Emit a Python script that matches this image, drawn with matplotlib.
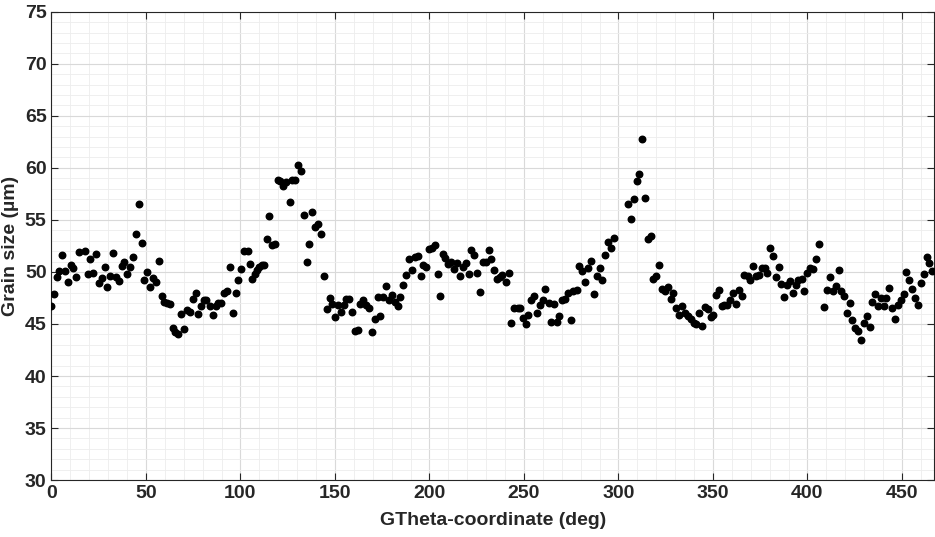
import matplotlib.pyplot as plt
from matplotlib.ticker import MultipleLocator

plt.rcParams['font.family'] = ['Liberation Sans', 'DejaVu Sans']
plt.rcParams['font.weight'] = 'bold'

# angle (deg) and grain size (um)
theta = [0, 1.3, 2.7, 3.9, 5.7, 7.1, 8.7, 10.1, 11.3, 13.2, 14.7, 17.6, 19.2, 20.6,
         22.1, 23.6, 25.4, 26.8, 28.2, 29.6, 31.2, 32.6, 34.2, 35.6, 37.2, 38.6, 40.2,
         41.8, 43.2, 44.8, 46.2, 47.8, 49.2, 50.8, 52.2, 53.8, 55.4, 56.8, 58.4, 59.8,
         61.2, 62.8, 64.2, 65.6, 67.2, 68.8, 70.4, 71.8,
         73.5, 74.9, 76.3, 77.7, 79.1, 80.5, 82.0, 83.7, 85.3, 86.9, 88.3, 89.9, 91.3,
         92.9, 94.3, 95.9, 97.5, 98.9, 100.5, 101.9, 103.8, 104.9, 106.3, 107.5, 108.8,
         110.0, 111.2, 112.5, 113.9, 115.3, 116.5, 118.1, 119.7, 121.1, 122.5, 123.9,
         126.0, 127.3, 129.0, 130.4, 132.0, 133.4, 135.0, 136.4, 138.0, 139.4, 141.0,
         142.6, 144.0,
         145.6, 147.2, 148.6, 150.2, 151.4, 153.0, 154.6, 156.0, 157.6, 159.0, 160.4,
         162.0, 163.4, 165.0, 166.6, 168.2, 169.6, 171.2, 172.6, 174.0, 175.6, 177.2,
         178.6, 180.2, 181.6, 183.2, 184.6, 186.2, 187.6, 189.2, 190.7, 192.3, 193.7,
         195.3, 196.6, 198.1, 199.7, 201.3, 202.9, 204.3, 205.7, 207.1, 208.5, 210.0,
         211.4, 213.0, 214.5, 216.3, 217.7, 219.1, 220.7, 222.1, 223.7, 225.3, 226.7,
         228.1, 229.7, 231.3, 232.7, 234.3, 235.7, 237.1, 238.5, 240.3, 241.9, 243.3,
         244.9, 246.6, 248.0, 249.4, 251.0, 252.4, 254.0, 255.4, 256.9, 258.3,
         260.0, 261.4, 263.0, 264.4, 266.0, 267.4, 268.8, 270.4, 271.8, 273.4, 275.0,
         276.2, 278.0, 279.2, 280.8, 282.4, 283.8, 285.4, 287.0, 288.4, 290.0, 291.4,
         293.0, 294.4, 296.0, 297.4, 305.0, 306.4, 308.0, 309.6, 311.0, 312.5, 314.0,
         315.4, 317.0, 318.5, 320.0, 321.5, 323.1, 324.7, 326.1, 327.7, 329.1, 330.5,
         332.3, 333.7, 335.3, 336.9, 338.3, 339.9, 341.3, 342.7, 344.3, 345.7, 347.3,
         348.9, 350.3, 351.7, 353.3, 354.7, 356.1, 357.7, 359.1, 360.7, 362.3, 363.7,
         365.3, 366.7, 368.3, 369.7, 371.3, 372.7, 374.3, 375.7, 377.3, 378.8, 380.2,
         381.8, 383.2, 384.8, 386.2, 387.8, 389.2, 390.8, 392.2, 393.8, 395.2,
         397.0, 398.2, 399.6, 401.2, 402.8, 404.4, 406.0, 408.8, 410.4, 411.9, 413.4,
         414.9, 416.5, 418.0, 419.4, 420.8, 422.4, 423.8, 425.2, 426.8, 428.2, 429.8,
         431.4, 432.9, 434.3, 435.9, 437.3, 438.9, 440.3, 441.7, 443.3, 444.9, 446.5,
         448.1, 449.5, 450.9, 452.3, 453.7, 455.5, 457.1, 458.5, 459.9, 461.5, 463.1,
         464.5, 466.1]
grain = [46.7, 47.85, 49.55, 50.1, 51.6, 50.1, 49.0, 50.7, 50.4, 49.55, 51.9, 52.05, 49.8, 51.25,
         49.9, 51.7, 48.9, 49.4, 50.5, 48.6, 49.6, 51.8, 49.55, 49.1, 50.6, 51.0, 49.8,
         50.5, 51.4, 53.6, 56.5, 52.8, 49.2, 50.0, 48.6, 49.4, 49.0, 51.1, 47.7, 47.1,
         47.0, 46.9, 44.6, 44.2, 44.0, 46.0, 44.5, 46.3,
         46.2, 47.4, 48.0, 45.96, 46.7, 47.3, 47.3, 46.7, 45.9, 46.7, 47.05, 47.0, 48.0,
         48.2, 50.5, 46.1, 47.95, 49.2, 50.3, 52.05, 52.0, 50.8, 49.3, 49.8, 50.2,
         50.5, 50.7, 50.7, 53.2, 55.4, 52.6, 52.7, 58.85, 58.7, 58.3, 58.6,
         56.7, 58.8, 58.85, 60.3, 59.75, 55.45, 51.0, 52.7, 55.8, 54.3, 54.6,
         53.6, 49.65,
         46.4, 47.5, 46.9, 45.7, 46.8, 46.2, 46.8, 47.4, 47.4, 46.2, 44.3,
         44.4, 46.95, 47.3, 46.8, 46.5, 44.2, 45.45, 47.6, 45.8, 47.6, 48.65,
         47.3, 47.8, 47.15, 46.7, 47.6, 48.7, 49.7, 51.25, 50.2, 51.4, 51.5,
         49.6, 50.7, 50.5, 52.2, 52.35, 52.6, 49.8, 47.7, 51.7, 51.35, 50.8,
         51.0, 50.3, 50.9, 49.6, 50.5, 50.9, 49.8, 52.1, 51.6, 49.9, 48.1,
         51.0, 51.0, 52.1, 51.2, 50.2, 49.3, 49.55, 49.7, 49.0, 49.9, 45.05,
         46.5, 46.5, 46.5, 45.6, 44.97, 45.9, 47.3, 47.7, 46.1, 46.8,
         47.3, 48.4, 47.05, 45.2, 46.9, 45.2, 45.8, 47.3, 47.4, 47.95, 45.4,
         48.2, 48.3, 50.6, 50.1, 49.0, 50.35, 51.05, 47.9, 49.6, 50.35, 49.2,
         51.6, 52.85, 52.3, 53.3, 56.5, 55.1, 57.0, 58.7, 59.4, 62.8, 57.1,
         53.2, 53.5, 49.3, 49.6, 50.7, 48.4, 48.2, 48.6, 47.4, 48.0, 46.5,
         45.9, 46.7, 46.1, 45.8, 45.5, 45.1, 45.0, 46.1, 44.8, 46.6, 46.4,
         45.7, 45.9, 47.8, 48.3, 46.7, 46.8, 46.8, 47.3, 48.0, 46.9, 48.3,
         47.7, 49.7, 49.6, 49.2, 50.6, 49.6, 49.7, 50.4, 50.35, 49.9, 52.3,
         51.55, 49.5, 50.45, 48.8, 47.6, 48.7, 49.1, 47.95, 48.7, 49.2,
         49.3, 48.2, 49.9, 50.4, 50.25, 51.2, 52.66, 46.6, 48.3, 49.5, 48.2,
         48.65, 50.2, 48.2, 47.7, 46.1, 47.0, 45.4, 44.6, 44.3, 43.5, 45.06,
         45.8, 44.7, 47.1, 47.85, 46.7, 47.5, 46.7, 47.5, 48.5, 46.5, 45.5,
         46.8, 47.3, 47.9, 49.97, 49.2, 48.4, 47.5, 46.85, 48.9, 49.8, 51.4,
         50.9, 50.1]

fig = plt.figure(figsize=(9.35, 5.37), dpi=100)
ax = fig.add_axes([0.055, 0.106, 0.944, 0.872])

ax.scatter(theta, grain, s=22, color='black', zorder=3)

ax.set_xlim(0, 467)
ax.set_ylim(30, 75)
ax.xaxis.set_major_locator(MultipleLocator(50))
ax.xaxis.set_minor_locator(MultipleLocator(10))
ax.yaxis.set_major_locator(MultipleLocator(5))
ax.yaxis.set_minor_locator(MultipleLocator(1))
ax.grid(which='major', color='#d9d9d9', linewidth=0.8)
ax.grid(which='minor', color='#ededed', linewidth=0.6)
ax.set_axisbelow(True)

ax.tick_params(which='both', direction='in', top=True, right=True, colors='#262626',
               labelsize=14)
ax.tick_params(which='major', length=5)
ax.tick_params(which='minor', length=0)
for sp in ax.spines.values():
    sp.set_color('#262626')
    sp.set_linewidth(0.8)

ax.set_xlabel('GTheta-coordinate (deg)', fontsize=14, fontweight='bold', color='#262626',
              labelpad=7)
ax.set_ylabel('Grain size (µm)', fontsize=14, fontweight='bold', color='#262626',
              labelpad=4)

fig.savefig('out.png', dpi=100)
